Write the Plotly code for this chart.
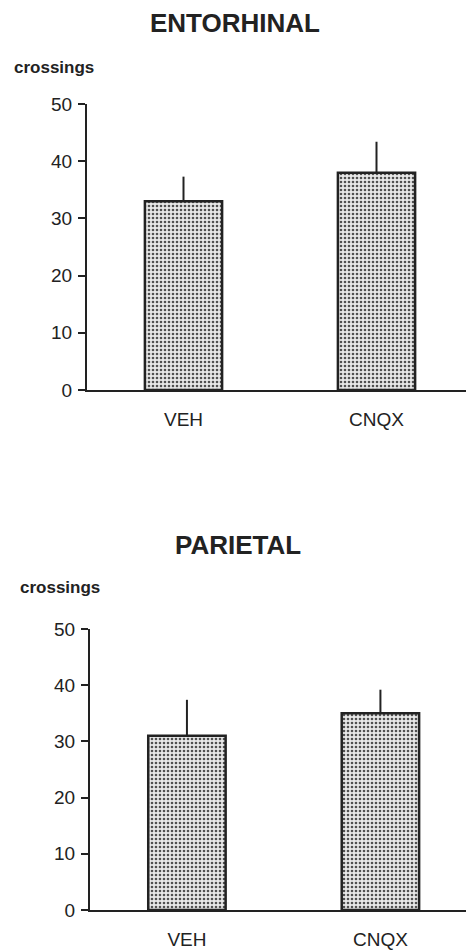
import plotly.graph_objects as go

# ---- data ----
groups = ["VEH", "CNQX"]
entorhinal_mean = [33, 38]
entorhinal_sem = [4.3, 5.4]
parietal_mean = [31, 35]
parietal_sem = [6.4, 4.2]
y_ticks = [0, 10, 20, 30, 40, 50]
panel_titles = ["ENTORHINAL", "PARIETAL"]
y_label = "crossings"

FONT = "Liberation Sans, Arial, Helvetica, sans-serif"
INK = "#222222"
W, H = 474, 950
OFF = 8  # page body margin offset

fig = go.Figure()

def add_panel(means, sems, xa, ya):
    fig.add_trace(go.Bar(
        x=groups, y=means, width=0.40,
        xaxis=xa, yaxis=ya,
        marker=dict(
            color="#dcdcdc",
            line=dict(color=INK, width=2.5),
            pattern=dict(shape=".", fgcolor="#505050", bgcolor="#e8e8e8",
                         size=4, solidity=0.33),
        ),
        error_y=dict(type="data", symmetric=False, array=sems,
                     arrayminus=[0] * len(sems), width=0,
                     thickness=2, color=INK),
        showlegend=False,
    ))

add_panel(entorhinal_mean, entorhinal_sem, "x", "y")
add_panel(parietal_mean, parietal_sem, "x2", "y2")

xcommon = dict(type="category", categoryorder="array", categoryarray=groups,
               showline=True, linecolor=INK, linewidth=2, ticks="",
               showgrid=False, zeroline=False, automargin=False,
               tickfont=dict(family=FONT, size=19, color=INK),
               ticklabelstandoff=11)
ycommon = dict(range=[0, 50], tickvals=y_ticks, showline=True, linecolor=INK,
               linewidth=2, ticks="outside", ticklen=7, tickwidth=2,
               tickcolor=INK, showgrid=False, zeroline=False, automargin=False,
               tickfont=dict(family=FONT, size=19, color=INK),
               ticklabelstandoff=2)

def px(x):
    return (x - OFF) / W

def py(y):
    return 1 - (y - OFF) / H

def ann(text, x, y, size, xanchor="center"):
    return dict(text=text, x=px(x), y=py(y), xref="paper", yref="paper",
                xanchor=xanchor, yanchor="middle", showarrow=False,
                font=dict(family=FONT, size=size, color=INK))

fig.update_layout(
    template="none",
    width=W, height=H,
    margin=dict(l=0, r=0, t=0, b=0, pad=0),
    paper_bgcolor="white", plot_bgcolor="white",
    xaxis=dict(domain=[px(87), 1], range=[-0.5, 1.5466], anchor="y", **xcommon),
    yaxis=dict(domain=[py(390), py(104)], anchor="x", **ycommon),
    xaxis2=dict(domain=[px(90), 1], range=[-0.501, 1.525], anchor="y2", **xcommon),
    yaxis2=dict(domain=[py(910), py(629)], anchor="x2", **ycommon),
    annotations=[
        ann("<b>%s</b>" % panel_titles[0], 234.5, 23, 26),
        ann("<b>%s</b>" % panel_titles[1], 238, 545, 26),
        ann("<b>%s</b>" % y_label, 12, 68, 17, "left"),
        ann("<b>%s</b>" % y_label, 18, 587, 17, "left"),
    ],
)

fig.write_html("out.html")
